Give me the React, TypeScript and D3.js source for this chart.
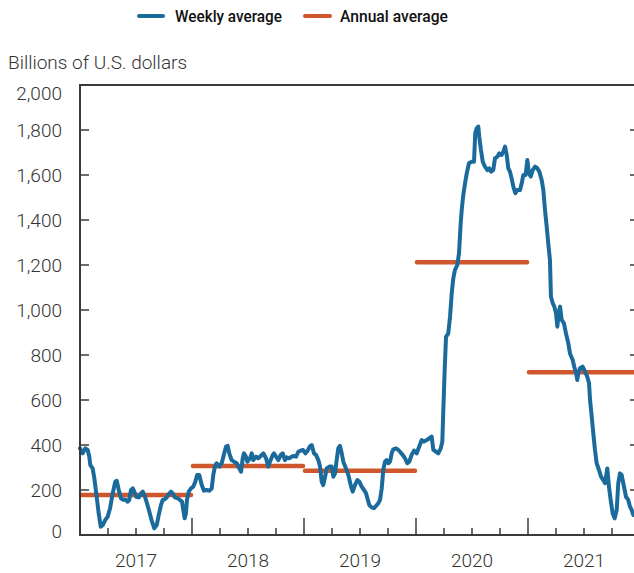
import React from "react";
import * as d3 from "d3";

// Weekly average (decimal year, billions USD)
const weekT: number[] = [
  2017.000, 2017.024, 2017.047, 2017.069, 2017.083, 2017.092, 2017.113, 2017.128, 2017.149, 2017.167,
  2017.185, 2017.203, 2017.226, 2017.247, 2017.268, 2017.292, 2017.315, 2017.328, 2017.346, 2017.366,
  2017.387, 2017.404, 2017.426, 2017.440, 2017.455, 2017.471, 2017.485, 2017.500, 2017.524, 2017.545,
  2017.560, 2017.580, 2017.598, 2017.619, 2017.643, 2017.663, 2017.685, 2017.703, 2017.723, 2017.738,
  2017.753, 2017.774, 2017.792, 2017.813, 2017.828, 2017.848, 2017.872, 2017.893, 2017.911, 2017.922,
  2017.935, 2017.946, 2017.955, 2017.971, 2017.991, 2018.012, 2018.029, 2018.047, 2018.065, 2018.087,
  2018.107, 2018.131, 2018.154, 2018.176, 2018.190, 2018.205, 2018.220, 2018.244, 2018.265, 2018.280,
  2018.304, 2018.319, 2018.333, 2018.354, 2018.375, 2018.399, 2018.422, 2018.438, 2018.453, 2018.464,
  2018.482, 2018.494, 2018.518, 2018.533, 2018.547, 2018.571, 2018.592, 2018.613, 2018.637, 2018.661,
  2018.681, 2018.696, 2018.721, 2018.732, 2018.750, 2018.771, 2018.792, 2018.810, 2018.830, 2018.845,
  2018.869, 2018.890, 2018.911, 2018.929, 2018.949, 2018.971, 2018.991, 2019.013, 2019.033, 2019.051,
  2019.069, 2019.089, 2019.107, 2019.128, 2019.143, 2019.158, 2019.172, 2019.188, 2019.203, 2019.226,
  2019.247, 2019.262, 2019.277, 2019.292, 2019.306, 2019.321, 2019.337, 2019.351, 2019.375, 2019.396,
  2019.417, 2019.435, 2019.455, 2019.476, 2019.494, 2019.515, 2019.536, 2019.554, 2019.569, 2019.583,
  2019.604, 2019.625, 2019.643, 2019.663, 2019.679, 2019.694, 2019.708, 2019.723, 2019.738, 2019.753,
  2019.768, 2019.783, 2019.797, 2019.821, 2019.842, 2019.857, 2019.881, 2019.902, 2019.922, 2019.940,
  2019.961, 2019.982, 2020.006, 2020.029, 2020.051, 2020.071, 2020.096, 2020.119, 2020.140, 2020.155,
  2020.179, 2020.199, 2020.221, 2020.235, 2020.244, 2020.256, 2020.268, 2020.288, 2020.304, 2020.319,
  2020.333, 2020.348, 2020.369, 2020.384, 2020.399, 2020.408, 2020.422, 2020.438, 2020.453, 2020.473,
  2020.497, 2020.518, 2020.529, 2020.542, 2020.556, 2020.565, 2020.580, 2020.596, 2020.616, 2020.637,
  2020.654, 2020.670, 2020.690, 2020.705, 2020.726, 2020.744, 2020.765, 2020.780, 2020.795, 2020.810,
  2020.824, 2020.839, 2020.854, 2020.869, 2020.887, 2020.904, 2020.929, 2020.944, 2020.958, 2020.979,
  2020.994, 2021.009, 2021.024, 2021.042, 2021.063, 2021.083, 2021.101, 2021.122, 2021.137, 2021.152,
  2021.167, 2021.181, 2021.196, 2021.205, 2021.221, 2021.235, 2021.250, 2021.262, 2021.274, 2021.286,
  2021.301, 2021.321, 2021.339, 2021.360, 2021.375, 2021.399, 2021.413, 2021.429, 2021.440, 2021.449,
  2021.464, 2021.488, 2021.509, 2021.529, 2021.545, 2021.554, 2021.569, 2021.583, 2021.598, 2021.613,
  2021.634, 2021.652, 2021.672, 2021.688, 2021.708, 2021.723, 2021.738, 2021.756, 2021.774, 2021.792,
  2021.806, 2021.821, 2021.836, 2021.851, 2021.875, 2021.895, 2021.911, 2021.926, 2021.940,
];

const weeklyValues: number[] = [
  385, 363, 385, 378, 348, 311, 296, 252, 170, 96,
  37, 44, 67, 81, 118, 185, 237, 241, 200, 163,
  156, 158, 148, 156, 200, 207, 193, 170, 167, 185,
  193, 170, 141, 104, 59, 30, 44, 89, 133, 156,
  158, 167, 182, 193, 185, 167, 163, 156, 148, 111,
  74, 96, 156, 193, 207, 215, 237, 267, 267, 222,
  197, 200, 197, 207, 267, 304, 319, 304, 319, 348,
  393, 396, 363, 333, 326, 319, 296, 281, 341, 363,
  348, 326, 341, 363, 333, 348, 341, 351, 363, 341,
  304, 326, 356, 363, 348, 333, 356, 363, 333, 345,
  341, 348, 351, 348, 370, 375, 378, 363, 375, 393,
  400, 363, 356, 333, 304, 237, 222, 259, 296, 304,
  304, 259, 274, 333, 385, 396, 363, 326, 296, 267,
  222, 193, 222, 244, 237, 215, 200, 185, 158, 133,
  123, 119, 129, 141, 156, 207, 289, 326, 333, 319,
  326, 363, 381, 385, 378, 370, 356, 341, 319, 326,
  356, 375, 363, 393, 422, 415, 422, 430, 437, 378,
  370, 363, 385, 415, 556, 733, 881, 896, 970, 1074,
  1141, 1178, 1200, 1252, 1385, 1444, 1511, 1563, 1607, 1652,
  1659, 1659, 1785, 1807, 1815, 1770, 1711, 1659, 1637, 1622,
  1630, 1615, 1622, 1674, 1681, 1696, 1689, 1704, 1726, 1689,
  1630, 1615, 1585, 1548, 1519, 1533, 1533, 1563, 1600, 1600,
  1667, 1607, 1593, 1622, 1637, 1630, 1615, 1578, 1533, 1444,
  1370, 1296, 1222, 1059, 1030, 1015, 985, 926, 985, 1015,
  956, 941, 896, 852, 807, 778, 748, 719, 689, 719,
  741, 748, 726, 704, 674, 600, 526, 452, 378, 319,
  289, 259, 244, 230, 296, 215, 156, 96, 74, 111,
  230, 274, 267, 230, 170, 156, 126, 111, 89,
];

// Annual averages
const years: number[] = [2017, 2018, 2019, 2020, 2021];
const annualAverages: number[] = [178, 307, 286, 1212, 723];

const yTicks: number[] = [0, 200, 400, 600, 800, 1000, 1200, 1400, 1600, 1800, 2000];
const yLabelOffset: Record<number, number> = { 0: -4, 2000: 8 };

const BLUE = "#1b6a9c";
const ORANGE = "#d0562c";
const AXIS = "#3a3a3a";

export default function App() {
  const W = 634;
  const H = 573;
  const left = 80, right = 640, top = 85, bottom = 535;

  const x = d3.scaleLinear().domain([2017, 2022]).range([left, right]);
  const y = d3.scaleLinear().domain([0, 2000]).range([bottom, top]);

  const pts: [number, number][] = weekT.map((t, i) => [t, weeklyValues[i]]);
  const line = d3
    .line<[number, number]>()
    .x((d) => x(d[0]))
    .y((d) => y(d[1]));

  const quarterTicks = d3.range(2017, 2022.01, 0.25);
  const font = "Roboto, 'Noto Sans', sans-serif";

  return (
    <svg
      width={W}
      height={H}
      style={{ position: "absolute", left: 0, top: 0, background: "#fff" }}
      fontFamily={font}
    >
      {/* Legend */}
      <g>
        <line x1={139} x2={163} y1={16} y2={16} stroke={BLUE} strokeWidth={4} strokeLinecap="round" />
        <text x={175} y={22} fontSize={17} fontWeight={500} fill="#111" textLength={107} lengthAdjust="spacingAndGlyphs">
          Weekly average
        </text>
        <line x1={305} x2={330} y1={16} y2={16} stroke={ORANGE} strokeWidth={4} strokeLinecap="round" />
        <text x={340} y={22} fontSize={17} fontWeight={500} fill="#111" textLength={108} lengthAdjust="spacingAndGlyphs">
          Annual average
        </text>
      </g>

      {/* Unit label */}
      <text x={8} y={69} fontSize={19} fontWeight={300} fill="#333">
        Billions of U.S. dollars
      </text>

      {/* Y tick labels */}
      {yTicks.map((v) => (
        <text
          key={v}
          x={62}
          y={y(v) + (yLabelOffset[v] ?? 0)}
          fontSize={19}
          fontWeight={300}
          fill="#333"
          textAnchor="end"
          dominantBaseline="central"
        >
          {d3.format(",")(v)}
        </text>
      ))}

      {/* Y ticks left and right (inward) */}
      {yTicks.filter((v) => v > 0 && v < 2000).map((v) => (
        <g key={"t" + v}>
          <line x1={left} x2={left + 9} y1={y(v)} y2={y(v)} stroke={AXIS} strokeWidth={1.5} />
          <line x1={right - 10} x2={right} y1={y(v)} y2={y(v)} stroke={AXIS} strokeWidth={1.5} />
        </g>
      ))}

      {/* X ticks */}
      {quarterTicks.map((t) => {
        const isYear = Math.abs(t - Math.round(t)) < 1e-6;
        if (isYear && (t === 2017 || t === 2022)) return null;
        return (
          <line
            key={"x" + t}
            x1={x(t)}
            x2={x(t)}
            y1={bottom}
            y2={bottom - (isYear ? 17 : 7)}
            stroke={AXIS}
            strokeWidth={1.5}
          />
        );
      })}

      {/* Year labels */}
      {years.map((yr) => (
        <text key={"y" + yr} x={x(yr + 0.5)} y={567} fontSize={19} fontWeight={300} fill="#333" textAnchor="middle">
          {yr}
        </text>
      ))}

      {/* Annual averages */}
      {years.map((yr, i) => (
        <line
          key={"a" + yr}
          x1={x(yr) + 1}
          x2={x(yr + 1) - 1}
          y1={y(annualAverages[i])}
          y2={y(annualAverages[i])}
          stroke={ORANGE}
          strokeWidth={4.5}
          strokeLinecap="round"
        />
      ))}

      {/* Weekly line */}
      <path
        d={line(pts) ?? ""}
        fill="none"
        stroke={BLUE}
        strokeWidth={4}
        strokeLinejoin="round"
        strokeLinecap="round"
      />

      {/* Frame */}
      <rect x={left} y={top} width={right - left} height={bottom - top} fill="none" stroke={AXIS} strokeWidth={2} />
    </svg>
  );
}
